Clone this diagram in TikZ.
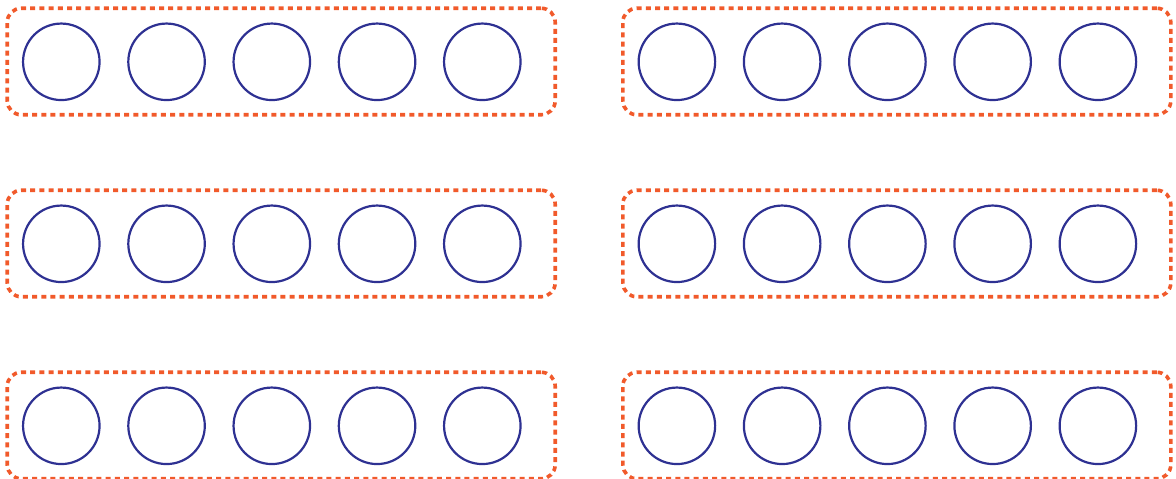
\documentclass[tikz,border=0pt]{standalone}
\usetikzlibrary{fit}
\definecolor{boxorange}{HTML}{F15A2B}
\definecolor{ringblue}{HTML}{2E3192}
\begin{document}
\begin{tikzpicture}[x=1pt,y=-1pt,
  ring/.style={circle,draw=ringblue,line width=2.2pt,minimum size=76.5pt,inner sep=0pt},
  groupbox/.style={draw=boxorange,line width=3.6pt,dash pattern=on 5pt off 4.2pt,rounded corners=14pt,minimum width=548pt,minimum height=106.5pt,inner sep=0pt}]
\useasboundingbox (0,0) rectangle (1176,479);
\foreach \r/\yy in {0/61.8,1/243.8,2/425.8}{
  \foreach \c/\xo in {0/0,1/615.6}{
    \foreach \i in {0,...,4}{
      \node[ring] (c\r\c\i) at ({61.3+\xo+105.25*\i},\yy) {};
    }
    \node[groupbox] (b\r\c) at ({281.2+\xo},{\yy-0.3}) {};
  }
}
\end{tikzpicture}
\end{document}
